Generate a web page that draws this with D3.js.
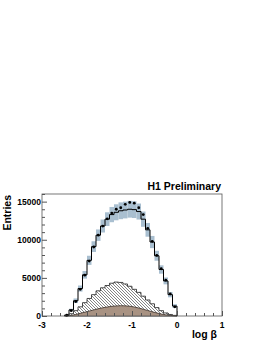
<!DOCTYPE html>
<html>
<head>
<meta charset="utf-8">
<script src="https://cdn.jsdelivr.net/npm/d3@7"></script>
<style>
  body { margin: 0; background: #fff; }
  text { font-family: "Liberation Sans", Arial, sans-serif; font-weight: bold; }
</style>
</head>
<body>
<div id="chart"></div>
<script>
// DATA (bin centres, width 0.1)
var binCentres = [-2.45, -2.35, -2.25, -2.15, -2.05, -1.95, -1.85, -1.75, -1.65, -1.55,
  -1.45, -1.35, -1.25, -1.15, -1.05, -0.95, -0.85, -0.75, -0.65, -0.55,
  -0.45, -0.35, -0.25, -0.15, -0.05];
var dataValues = [100, 700, 1900, 3500, 5350, 7200, 9050, 10600, 11800, 12750,
  13500, 14000, 14200, 14650, 14900, 14800, 14200, 13300, 11500, 9800,
  7950, 6200, 4700, 2900, 1200];
var mcValues = [100, 800, 2000, 3600, 5400, 7300, 9100, 10600, 11800, 12700,
  13300, 13600, 13800, 13900, 14000, 13950, 13700, 12700, 11300, 9700,
  7900, 6100, 4600, 2800, 1300];
var mcErrors = [50, 150, 300, 400, 500, 600, 700, 750, 850, 900,
  1000, 1050, 1100, 1100, 1100, 1100, 1050, 1000, 900, 800,
  650, 550, 450, 350, 250];
var hatchedValues = [100, 300, 700, 1200, 1750, 2300, 2800, 3300, 3700, 4000,
  4300, 4450, 4400, 4200, 3900, 3500, 3100, 2600, 2100, 1600,
  1100, 700, 400, 200, 80];
var brownValues = [20, 80, 200, 350, 500, 650, 800, 950, 1080, 1180,
  1270, 1320, 1350, 1330, 1280, 1180, 1050, 880, 720, 550,
  400, 260, 150, 70, 20];
var xTicks = [-3, -2, -1, 0, 1];
var yTicks = [0, 5000, 10000, 15000];
var binWidth = 0.1;

// BOUNDS
var width = 266, height = 344;
var frame = {left: 42, top: 194, right: 222, bottom: 316};

// SCALE
var xScale = d3.scaleLinear().domain([-3, 1]).range([frame.left, frame.right]);
var yScale = d3.scaleLinear().domain([0, 16000]).range([frame.bottom, frame.top]);

var svg = d3.select('#chart')
  .append('svg')
  .attr('width', width)
  .attr('height', height);

// hatch pattern
svg.append('defs')
  .append('pattern')
  .attr('id', 'hatch')
  .attr('patternUnits', 'userSpaceOnUse')
  .attr('width', 3)
  .attr('height', 3)
  .append('path')
  .attr('d', 'M-1,-1 L4,4 M-1,2 L1,4 M2,-1 L4,1')
  .attr('stroke', '#333')
  .attr('stroke-width', 0.6);

function bins(values) {
  return binCentres.map(function(c, i) {
    return {x0: c - binWidth / 2, x1: c + binWidth / 2, v: values[i]};
  });
}

// step outline of a histogram, closing down to zero at both ends
function stepPath(values) {
  var b = bins(values);
  var p = 'M' + xScale(b[0].x0) + ',' + yScale(0);
  b.forEach(function(d) {
    p += 'L' + xScale(d.x0) + ',' + yScale(d.v) + 'L' + xScale(d.x1) + ',' + yScale(d.v);
  });
  p += 'L' + xScale(b[b.length - 1].x1) + ',' + yScale(0);
  return p;
}

// uncertainty band
svg.append('g')
  .selectAll('rect')
  .data(bins(mcValues))
  .enter().append('rect')
  .attr('x', function(d) { return xScale(d.x0); })
  .attr('width', function(d) { return xScale(d.x1) - xScale(d.x0); })
  .attr('y', function(d, i) { return yScale(d.v + mcErrors[i]); })
  .attr('height', function(d, i) { return yScale(d.v - mcErrors[i]) - yScale(d.v + mcErrors[i]); })
  .attr('fill', '#a9bfd0');

// hatched histogram
svg.append('path')
  .attr('d', stepPath(hatchedValues) + 'Z')
  .attr('fill', 'url(#hatch)')
  .attr('stroke', '#222')
  .attr('stroke-width', 0.8);

// brown component
var brownPts = [{x: binCentres[0] - binWidth / 2, v: 0}].concat(
  binCentres.map(function(c, i) { return {x: c, v: brownValues[i]}; }),
  [{x: binCentres[binCentres.length - 1] + binWidth / 2, v: 0}]);
svg.append('path')
  .datum(brownPts)
  .attr('d', d3.area()
    .x(function(d) { return xScale(d.x); })
    .y0(yScale(0))
    .y1(function(d) { return yScale(d.v); }))
  .attr('fill', '#a89282');
svg.append('path')
  .datum(brownPts)
  .attr('d', d3.line()
    .x(function(d) { return xScale(d.x); })
    .y(function(d) { return yScale(d.v); }))
  .attr('fill', 'none')
  .attr('stroke', '#3a2e28')
  .attr('stroke-width', 0.8);

// MC step line
svg.append('path')
  .attr('d', stepPath(mcValues))
  .attr('fill', 'none')
  .attr('stroke', '#000')
  .attr('stroke-width', 1);

// data points
svg.append('g')
  .selectAll('circle')
  .data(dataValues)
  .enter().append('circle')
  .attr('cx', function(d, i) { return xScale(binCentres[i]); })
  .attr('cy', function(d) { return yScale(d); })
  .attr('r', 1.4)
  .attr('fill', '#000');

// frame
svg.append('rect')
  .attr('x', frame.left)
  .attr('y', frame.top)
  .attr('width', frame.right - frame.left)
  .attr('height', frame.bottom - frame.top)
  .attr('fill', 'none')
  .attr('stroke', '#555')
  .attr('stroke-width', 0.8);

// AXIS (ticks inside the frame)
var xAxis = svg.append('g')
  .attr('transform', 'translate(0,' + frame.bottom + ')')
  .call(d3.axisTop(xScale).ticks(20).tickSize(3).tickFormat(''));
xAxis.select('.domain').remove();
xAxis.selectAll('.tick line').attr('stroke', '#555')
  .attr('y2', function(d) { return xTicks.indexOf(d) >= 0 ? -5 : -3; });

var yAxis = svg.append('g')
  .attr('transform', 'translate(' + frame.left + ',0)')
  .call(d3.axisRight(yScale).ticks(16).tickSize(3).tickFormat(''));
yAxis.select('.domain').remove();
yAxis.selectAll('.tick line').attr('stroke', '#555')
  .attr('x2', function(d) { return yTicks.indexOf(d) >= 0 ? 5 : 3; });

// tick labels
svg.append('g')
  .selectAll('text')
  .data(xTicks)
  .enter().append('text')
  .attr('x', function(d) { return xScale(d); })
  .attr('y', 328)
  .attr('text-anchor', 'middle')
  .attr('font-size', 8.5)
  .text(function(d) { return d; });

svg.append('g')
  .selectAll('text')
  .data(yTicks)
  .enter().append('text')
  .attr('x', frame.left - 1)
  .attr('y', function(d) { return yScale(d) + 3; })
  .attr('text-anchor', 'end')
  .attr('font-size', 8.5)
  .text(function(d) { return d; });

// titles
svg.append('text')
  .attr('x', 217)
  .attr('y', 338)
  .attr('text-anchor', 'end')
  .attr('font-size', 10.5)
  .text('log \u03B2');

svg.append('text')
  .attr('transform', 'translate(11,195) rotate(-90)')
  .attr('text-anchor', 'end')
  .attr('font-size', 10.5)
  .text('Entries');

svg.append('text')
  .attr('x', 221)
  .attr('y', 190)
  .attr('text-anchor', 'end')
  .attr('font-size', 10.5)
  .text('H1 Preliminary');
</script>
</body>
</html>
